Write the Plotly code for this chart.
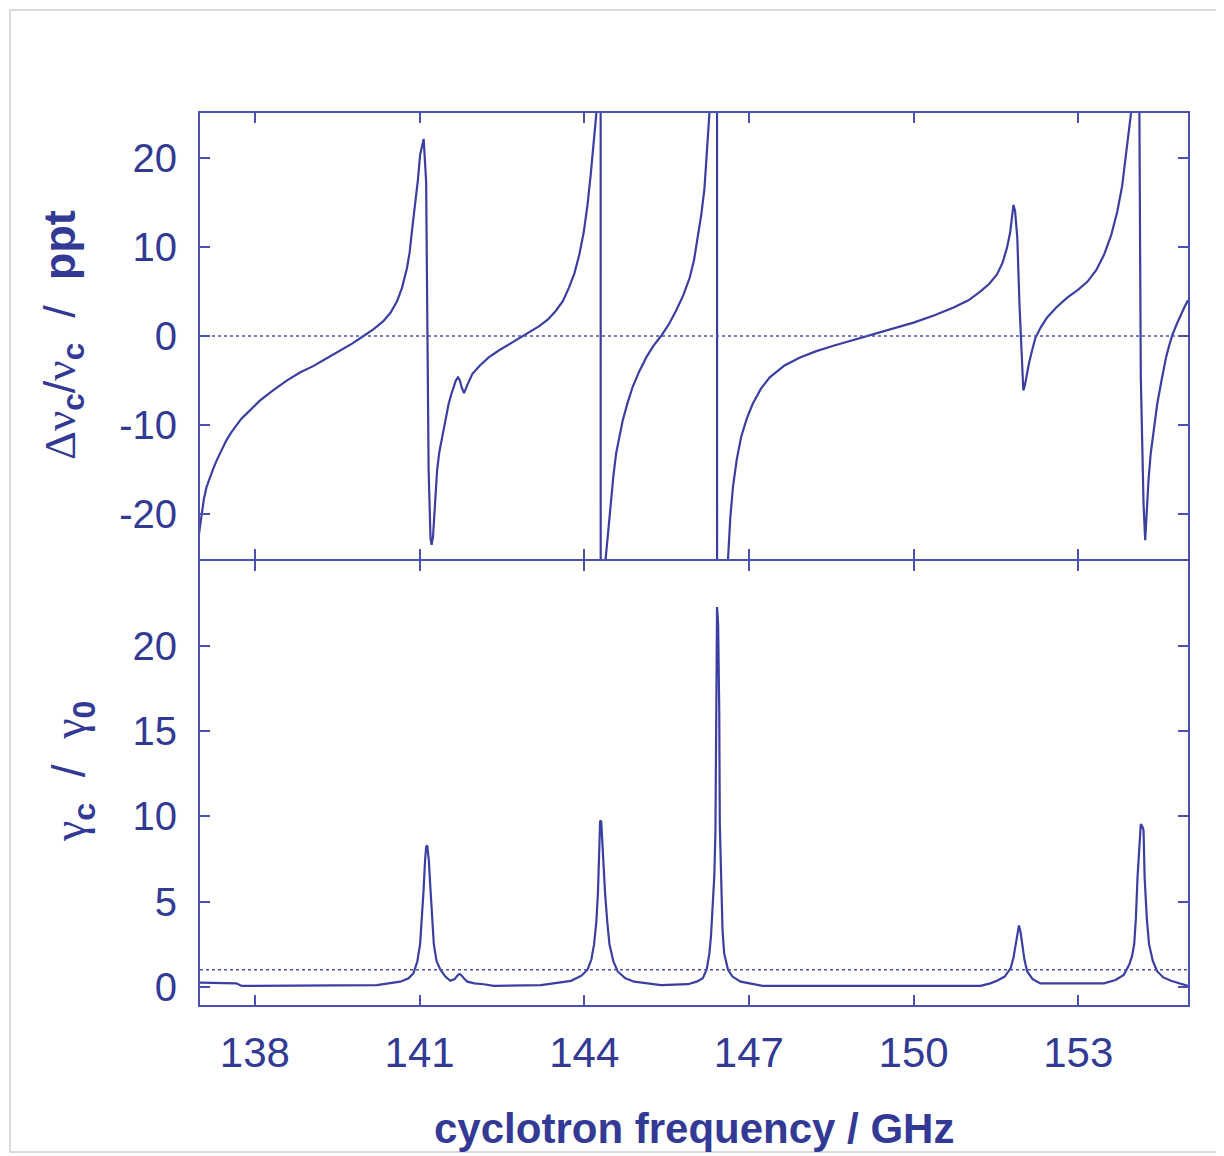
import plotly.graph_objects as go

# ---- data ----
freq_shift = [136.97, 137.00, 137.03, 137.07, 137.12, 137.18, 137.24, 137.30, 137.36, 137.42,
              137.48, 137.57, 137.66, 137.75, 137.85, 137.97, 138.09, 138.33, 138.58, 138.82,
              139.07, 139.31, 139.55, 139.77, 139.98, 140.17, 140.34, 140.47, 140.59, 140.68,
              140.77, 140.82, 140.86, 140.92, 140.97, 141.01, 141.075, 141.12, 141.135, 141.165,
              141.20, 141.22, 141.245, 141.27, 141.295, 141.32, 141.36, 141.41, 141.47, 141.53,
              141.58, 141.62, 141.66, 141.70, 141.73, 141.77, 141.81, 141.87, 141.96, 142.10,
              142.26, 142.45, 142.63, 142.87, 143.03, 143.18, 143.34, 143.48, 143.61, 143.72,
              143.82, 143.91, 143.99, 144.06, 144.12, 144.18, 144.22, 144.26, 144.295, 144.305,
              144.35, 144.39, 144.44, 144.49, 144.53, 144.58, 144.64, 144.70, 144.79, 144.88,
              145.00, 145.13, 145.26, 145.40, 145.54, 145.67, 145.80, 145.92, 146.00, 146.07,
              146.13, 146.19, 146.25, 146.28, 146.34, 146.415, 146.425, 146.52, 146.62, 146.66,
              146.71, 146.78, 146.86, 146.96, 147.07, 147.22, 147.38, 147.65, 147.93, 148.23,
              148.54, 148.90, 149.27, 149.63, 150.00, 150.37, 150.73, 151.00, 151.22, 151.38,
              151.52, 151.62, 151.70, 151.76, 151.80, 151.82, 151.85, 151.89, 151.93, 151.98,
              152.00, 152.03, 152.06, 152.10, 152.16, 152.22, 152.32, 152.43, 152.60, 152.80,
              153.00, 153.17, 153.33, 153.47, 153.60, 153.71, 153.80, 153.87, 153.92, 153.96,
              154.05, 154.11, 154.14, 154.19, 154.22, 154.25, 154.28, 154.32, 154.38, 154.44,
              154.52, 154.60, 154.66, 154.72, 154.80, 154.87, 154.94, 155.00]
shift_ppt = [-22.7, -21.2, -19.9, -18.3, -16.9, -15.8, -14.9, -14.0, -13.2, -12.4,
             -11.7, -10.8, -10.0, -9.3, -8.7, -7.95, -7.25, -6.1, -5.0, -4.1,
             -3.35, -2.5, -1.67, -0.85, 0.0, 0.8, 1.67, 2.6, 3.9, 5.4,
             7.6, 9.4, 11.7, 14.7, 17.5, 20.3, 22.1, 17.3, 2.8, -15.0,
             -22.7, -23.4, -22.5, -19.5, -17.0, -15.05, -13.0, -11.3, -9.3, -7.6,
             -6.5, -5.75, -5.0, -4.65, -4.9, -5.8, -6.4, -5.5, -4.27, -3.3,
             -2.4, -1.6, -0.93, 0.0, 0.5, 1.1, 1.85, 2.8, 3.9, 5.4,
             7.0, 9.1, 11.6, 14.7, 18.2, 22.1, 24.9, 50.0, 300.0, -300.0,
             -50.0, -25.0, -21.5, -18.8, -15.8, -13.2, -11.2, -9.5, -7.5, -5.75,
             -4.0, -2.4, -1.1, 0.0, 1.3, 2.8, 4.5, 6.5, 8.5, 11.0,
             13.5, 16.5, 22.1, 24.9, 50.0, 300.0, -300.0, -50.0, -25.0, -20.5,
             -16.9, -13.8, -11.3, -9.3, -7.6, -5.9, -4.64, -3.3, -2.4, -1.7,
             -1.1, -0.45, 0.2, 0.85, 1.5, 2.3, 3.2, 4.0, 5.0, 5.85,
             6.9, 8.2, 9.85, 11.6, 13.6, 14.7, 14.0, 11.0, 3.5, -3.5,
             -6.1, -5.5, -4.4, -3.15, -1.6, -0.2, 1.0, 2.05, 3.2, 4.3,
             5.2, 6.1, 7.4, 9.1, 11.3, 13.9, 16.8, 20.3, 22.6, 24.9,
             35.0, 30.0, -4.6, -18.8, -22.9, -19.5, -16.2, -13.2, -10.2, -7.6,
             -4.9, -2.4, -1.0, 0.2, 1.4, 2.4, 3.3, 4.0]

freq_damp = [136.96, 137.66, 137.76, 140.22, 140.65, 140.80, 140.89, 140.96, 141.01, 141.04,
             141.07, 141.10, 141.12, 141.14, 141.17, 141.19, 141.21, 141.24, 141.26, 141.31,
             141.38, 141.47, 141.56, 141.64, 141.70, 141.73, 141.77, 141.82, 141.87, 142.00,
             142.17, 142.35, 143.21, 143.76, 143.95, 144.06, 144.13, 144.18, 144.22, 144.25,
             144.27, 144.29, 144.31, 144.33, 144.35, 144.38, 144.42, 144.46, 144.53, 144.61,
             144.75, 144.91, 145.40, 145.89, 146.05, 146.16, 146.23, 146.28, 146.31, 146.34,
             146.37, 146.39, 146.40, 146.42, 146.44, 146.46, 146.47, 146.49, 146.50, 146.52,
             146.55, 146.62, 146.70, 146.85, 147.25, 151.22, 151.40, 151.52, 151.66, 151.77,
             151.82, 151.86, 151.89, 151.92, 151.95, 151.98, 152.02, 152.07, 152.17, 152.31,
             153.47, 153.68, 153.83, 153.93, 153.98, 154.02, 154.05, 154.08, 154.11, 154.14,
             154.17, 154.19, 154.21, 154.25, 154.29, 154.36, 154.44, 154.55, 154.69, 154.87,
             155.00]
damp_ratio = [0.25, 0.2, 0.05, 0.1, 0.3, 0.5, 0.8, 1.5, 2.5, 3.8,
              5.5, 7.4, 8.2, 8.3, 7.4, 6.2, 5.1, 3.5, 2.5, 1.5,
              1.0, 0.6, 0.35, 0.45, 0.7, 0.75, 0.65, 0.45, 0.3, 0.2,
              0.15, 0.05, 0.1, 0.35, 0.65, 1.0, 1.6, 2.5, 3.8, 5.5,
              7.5, 9.75, 9.7, 8.4, 7.0, 5.5, 3.8, 2.5, 1.5, 0.9,
              0.5, 0.3, 0.1, 0.15, 0.3, 0.5, 1.0, 1.95, 3.0, 4.5,
              6.5, 9.0, 16.2, 22.3, 21.3, 16.2, 9.55, 6.5, 4.7, 3.3,
              1.95, 1.0, 0.6, 0.3, 0.05, 0.05, 0.2, 0.35, 0.6, 1.1,
              1.7, 2.5, 3.2, 3.6, 3.2, 2.5, 1.6, 0.9, 0.45, 0.2,
              0.2, 0.4, 0.7, 1.3, 1.8, 2.5, 4.0, 6.4, 8.4, 9.55,
              9.4, 9.2, 6.4, 4.0, 2.5, 1.5, 0.9, 0.55, 0.35, 0.15,
              0.05]

x_ticks = [138, 141, 144, 147, 150, 153]
shift_ticks = [-20, -10, 0, 10, 20]
shift_tick_text = ["-20", "-10", "0", "10", "20"]
damp_ticks = [0, 5, 10, 15, 20]
damp_tick_text = ["0", "5", "10", "15", "20"]
shift_ref = 0
damp_ref = 1

# ---- styling ----
CURVE = "#3c3fa2"
AXIS = "#4c50b0"
TEXT = "#333a96"
FONT = "Liberation Sans, Arial, sans-serif"
SERIF = "Liberation Serif"
NB = "\u00a0"

# page body has an 8 px margin: figure is 1216x1148 placed at (8, 8)
W, H = 1216, 1148
ML, MT, PW, PH = 192, 105, 988, 892
MR, MB = W - ML - PW, H - MT - PH


def px_x(p):  # page pixel -> paper x
    return (p - 8 - ML) / PW


def px_y(p):  # page pixel -> paper y
    return (MT + PH - (p - 8)) / PH


fig = go.Figure()
fig.add_trace(go.Scatter(x=freq_shift, y=shift_ppt, mode="lines", xaxis="x2", yaxis="y2",
                         line=dict(color=CURVE, width=2.2), showlegend=False, hoverinfo="skip"))
fig.add_trace(go.Scatter(x=freq_damp, y=damp_ratio, mode="lines", xaxis="x", yaxis="y",
                         line=dict(color=CURVE, width=2.2), showlegend=False, hoverinfo="skip"))

split = 445 / 892
gap = 1 / 892
common = dict(showgrid=False, zeroline=False, showline=True, linecolor=AXIS, linewidth=2,
              mirror="ticks", ticks="inside", ticklen=10, tickwidth=1.5, tickcolor=AXIS)

greek = lambda s: f'<span style="font-family:{SERIF}">{s}</span>'

fig.update_layout(
    width=W, height=H,
    margin=dict(l=ML, r=MR, t=MT, b=MB),
    paper_bgcolor="white", plot_bgcolor="white",
    xaxis=dict(domain=[0, 1], anchor="y", range=[137, 155], tickvals=x_ticks,
               tickfont=dict(family=FONT, size=42, color=TEXT), ticklabelstandoff=10, **common),
    yaxis=dict(domain=[0, split - gap], anchor="x", range=[-1.07, 25], tickvals=damp_ticks,
               ticktext=damp_tick_text,
               tickfont=dict(family=FONT, size=40, color=TEXT), ticklabelstandoff=13, **common),
    xaxis2=dict(domain=[0, 1], anchor="y2", range=[137, 155], tickvals=x_ticks,
                matches="x", showticklabels=False, **common),
    yaxis2=dict(domain=[split + gap, 1], anchor="x2", range=[-25, 25], tickvals=shift_ticks,
                ticktext=shift_tick_text,
                tickfont=dict(family=FONT, size=40, color=TEXT), ticklabelstandoff=13, **common),
    shapes=[
        dict(type="line", xref="x2", yref="y2", x0=137, x1=155, y0=shift_ref, y1=shift_ref,
             line=dict(color=AXIS, width=1.5, dash="dot")),
        dict(type="line", xref="x", yref="y", x0=137, x1=155, y0=damp_ref, y1=damp_ref,
             line=dict(color=AXIS, width=1.5, dash="dot")),
        dict(type="rect", xref="paper", yref="paper",
             x0=px_x(10), x1=px_x(1218), y0=px_y(1152), y1=px_y(10),
             line=dict(color="#d0d0d0", width=1.5), layer="below"),
    ],
    annotations=[
        dict(text="cyclotron frequency / GHz", xref="paper", yref="paper", x=0.5,
             y=px_y(1128), xanchor="center", yanchor="middle", showarrow=False,
             font=dict(family=FONT, size=42, color=TEXT, weight="bold")),
        dict(text=greek("Δν") + "<sub><b>c</b></sub>/" + greek("ν") + "<sub><b>c</b></sub>"
             + NB * 2 + "/" + NB * 2 + "<b>ppt</b>",
             xref="paper", yref="paper",
             x=px_x(62), y=px_y(335), textangle=-90,
             xanchor="center", yanchor="middle", showarrow=False,
             font=dict(family=FONT, size=45, color=TEXT)),
        dict(text=greek("γ") + "<sub><b>c</b></sub>" + NB * 2 + "/" + NB * 2 + greek("γ") + "<sub><b>0</b></sub>",
             xref="paper", yref="paper",
             x=px_x(72), y=px_y(772), textangle=-90,
             xanchor="center", yanchor="middle", showarrow=False,
             font=dict(family=FONT, size=46, color=TEXT)),
    ],
)

fig.write_html("out.html")
